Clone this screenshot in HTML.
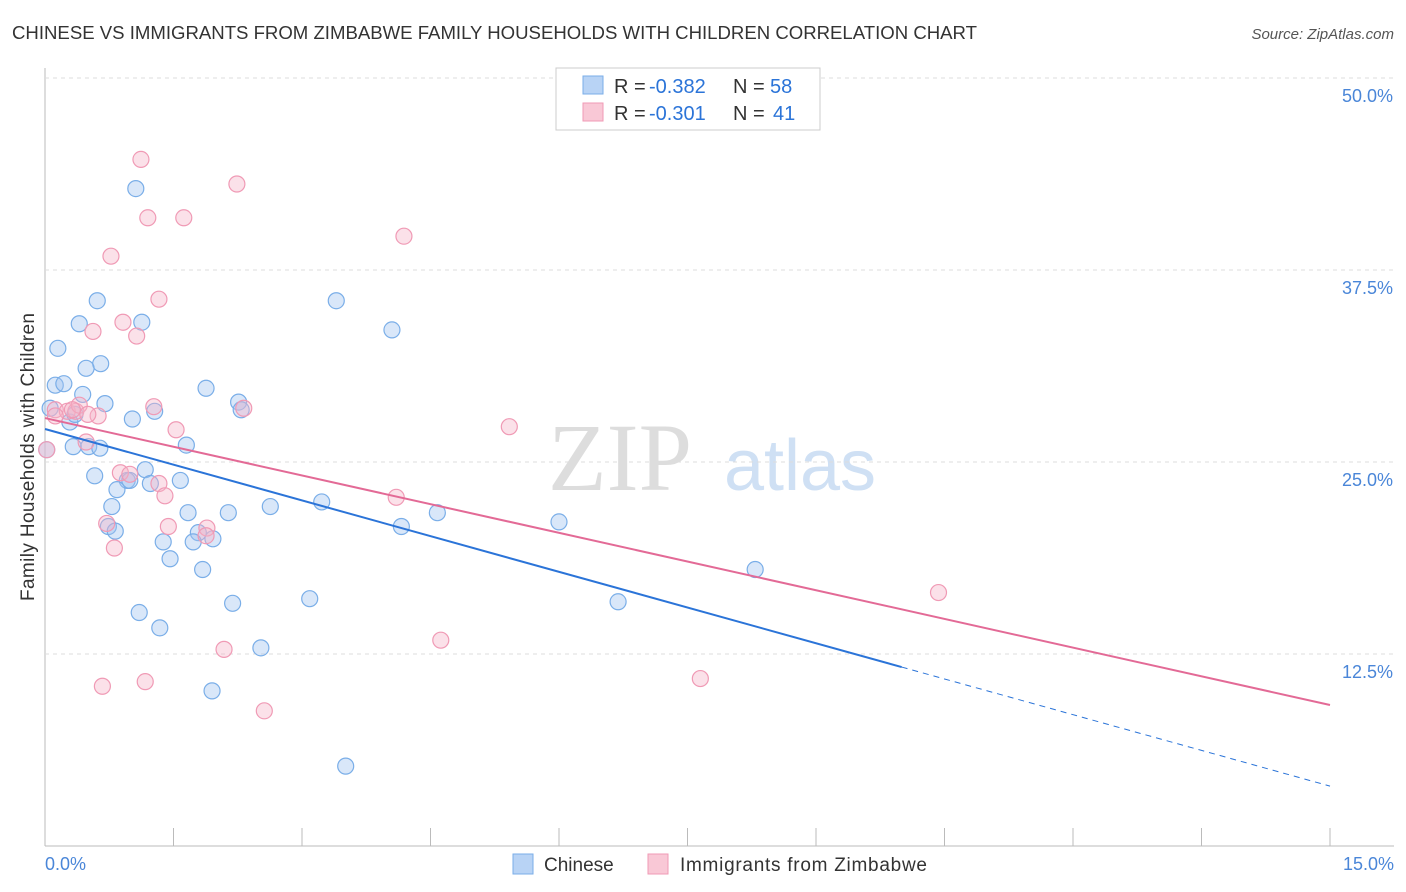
<!DOCTYPE html>
<html><head><meta charset="utf-8"><style>
body{margin:0;background:#fff;font-family:"Liberation Sans",sans-serif}
svg{display:block}
</style></head><body>
<svg id="c" width="1406" height="892">
<text x="12" y="39" font-size="18.6" fill="#333" textLength="965">CHINESE VS IMMIGRANTS FROM ZIMBABWE FAMILY HOUSEHOLDS WITH CHILDREN CORRELATION CHART</text>
<text x="1394" y="39" font-size="15" fill="#555" text-anchor="end" font-style="italic">Source: ZipAtlas.com</text>
<text x="620" y="490" font-size="96" fill="#ddd" font-family="Liberation Serif" text-anchor="middle">ZIP</text>
<text x="800" y="490" font-size="72" fill="#cfe0f4" text-anchor="middle">atlas</text>
<text transform="translate(34,457) rotate(-90)" font-size="19" fill="#333" text-anchor="middle" textLength="288">Family Households with Children</text>
<g id="grid"></g><g id="marks"></g>
<g>
<rect x="556" y="68" width="264" height="62" fill="#fff" stroke="#ccc"/>
<rect x="583" y="76" width="20" height="18" fill="#b8d3f5" stroke="#7aaee8"/>
<rect x="583" y="103" width="20" height="18" fill="#f9c8d6" stroke="#f09ab5"/>
<g font-size="20" fill="#333">
<text x="614" y="93">R =</text><text x="649" y="93" fill="#2b74d8">-0.382</text><text x="733" y="93">N =</text><text x="770" y="93" fill="#2b74d8">58</text>
<text x="614" y="120">R =</text><text x="649" y="120" fill="#2b74d8">-0.301</text><text x="733" y="120">N =</text><text x="773" y="120" fill="#2b74d8">41</text>
</g>
</g>
<g>
<rect x="513" y="854" width="20" height="20" fill="#b8d3f5" stroke="#7aaee8"/>
<text x="544" y="871" font-size="19" fill="#333">Chinese</text>
<rect x="648" y="854" width="20" height="20" fill="#f9c8d6" stroke="#f09ab5"/>
<text x="680" y="871" font-size="19" fill="#333" textLength="247">Immigrants from Zimbabwe</text>
</g>
</svg>
<script>
const yTicks=[12.5,25,37.5,50];
const yTickLabels=["12.5%","25.0%","37.5%","50.0%"];
const xTickVals=[0,1.5,3,4.5,6,7.5,9,10.5,12,13.5,15];
const chineseX=[1.06,0.61,3.40,0.40,1.13,4.05,0.15,0.65,0.48,0.12,0.22,0.44,1.88,0.70,2.26,2.29,1.28,1.02,0.06,0.29,0.33,0.51,1.65,0.02,0.58,1.17,1.58,1.23,0.96,0.84,3.23,0.78,2.63,2.14,4.58,1.67,6.00,4.16,0.74,0.82,1.79,1.96,1.38,1.73,1.46,1.84,8.29,2.19,3.09,6.69,1.10,1.34,2.52,1.95,3.51,0.64,0.99,0.35];
const chineseY=[42.8,35.5,35.5,34.0,34.1,33.6,32.4,31.4,31.1,30.0,30.1,29.4,29.8,28.8,28.9,28.4,28.3,27.8,28.5,27.6,26.0,26.0,26.1,25.8,24.1,24.5,23.8,23.6,23.8,23.2,22.4,22.1,22.1,21.7,21.7,21.7,21.1,20.8,20.8,20.5,20.4,20.0,19.8,19.8,18.7,18.0,18.0,15.8,16.1,15.9,15.2,14.2,12.9,10.1,5.2,25.9,23.8,28.1];
const zimX=[1.12,2.24,1.20,1.62,4.19,0.77,1.33,0.91,0.56,1.07,0.12,0.26,0.36,0.62,0.40,1.27,2.32,1.53,5.42,0.48,0.88,1.33,1.40,4.10,0.72,1.44,1.89,1.88,0.81,10.43,4.62,2.09,7.65,0.67,1.17,2.56,0.12,0.32,0.50,0.02,0.99];
const zimY=[44.7,43.1,40.9,40.9,39.7,38.4,35.6,34.1,33.5,33.2,28.4,28.3,28.3,28.0,28.7,28.6,28.5,27.1,27.3,26.3,24.3,23.6,22.8,22.7,21.0,20.8,20.7,20.2,19.4,16.5,13.4,12.8,10.9,10.4,10.7,8.8,28.0,28.4,28.1,25.8,24.2];
const blueFit=[27.15,3.9], pinkFit=[27.86,9.18], blueSolidEnd=10.0;
const sx=v=>45+v/15*1285, sy=v=>846-v/12.5*192;
const NS="http://www.w3.org/2000/svg";
function mk(t,a,p){const e=document.createElementNS(NS,t);for(const k in a)e.setAttribute(k,a[k]);p.appendChild(e);return e;}
const g=document.getElementById('grid'), m=document.getElementById('marks');
const ax=mk('line',{x1:45,y1:846,x2:1394,y2:846,stroke:'#bbb'},g);


const ay=mk('line',{x1:45,y1:68,x2:45,y2:846,stroke:'#bbb'},g);


yTicks.forEach((v,i)=>{
 const l=mk('line',{x1:45,y1:sy(v),x2:1394,y2:sy(v),stroke:'#ddd','stroke-dasharray':'4,4'},g);
 
 
 const t=mk('text',{x:1393,y:sy(v)+24,'font-size':18,fill:'#4a86d8','text-anchor':'end'},g);
 t.textContent=yTickLabels[i];
 
 
});
xTickVals.forEach(v=>{
 const l=mk('line',{x1:sx(v),y1:828,x2:sx(v),y2:846,stroke:'#bbb'},g);
 
 
});
[["0.0%",45,'start'],["15.0%",1394,'end']].forEach(a=>{
 const t=mk('text',{x:a[1],y:870,'font-size':18,fill:'#4a86d8','text-anchor':a[2]},g);
 t.textContent=a[0];
 
 
});
function dots(X,Y,f,s,name){X.forEach((x,i)=>{
 const c=mk('circle',{cx:sx(x),cy:sy(Y[i]),r:8,fill:f,stroke:s,'stroke-width':1.2},m);
 
 
});}
dots(chineseX,chineseY,'rgba(160,196,240,0.4)','#7aaee8','chinese-point');
dots(zimX,zimY,'rgba(245,180,200,0.4)','#f09ab5','zimbabwe-point');
const fy=(f,x)=>f[0]+(f[1]-f[0])*x/15;
const b1=mk('line',{x1:sx(0),y1:sy(blueFit[0]),x2:sx(blueSolidEnd),y2:sy(fy(blueFit,blueSolidEnd)),stroke:'#2b74d8','stroke-width':2},m);


const b2=mk('line',{x1:sx(blueSolidEnd),y1:sy(fy(blueFit,blueSolidEnd)),x2:sx(15),y2:sy(blueFit[1]),stroke:'#2b74d8','stroke-width':1,'stroke-dasharray':'6,5'},m);


const p1=mk('line',{x1:sx(0),y1:sy(pinkFit[0]),x2:sx(15),y2:sy(pinkFit[1]),stroke:'#e36a96','stroke-width':2},m);


</script>
</body></html>
